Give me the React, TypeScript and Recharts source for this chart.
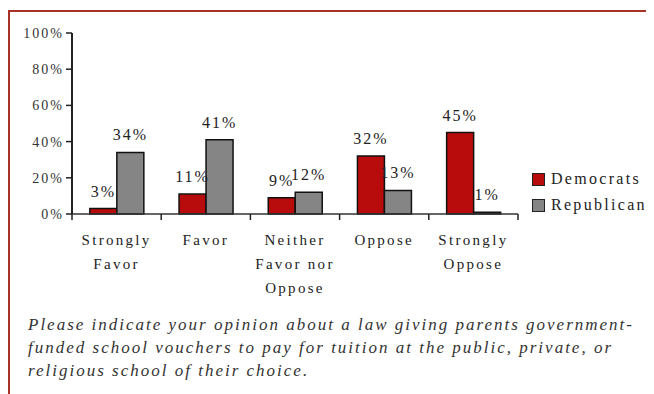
import { BarChart, Bar, XAxis, YAxis, Legend, LabelList } from "recharts";

const CATEGORIES = ["Strongly Favor", "Favor", "Neither Favor nor Oppose", "Oppose", "Strongly Oppose"];
const CATEGORY_LINES = [["Strongly", "Favor"], ["Favor"], ["Neither", "Favor nor", "Oppose"], ["Oppose"], ["Strongly", "Oppose"]];
const DEMOCRATS = [3, 11, 9, 32, 45];
const REPUBLICANS = [34, 41, 12, 13, 1];
const Y_TICKS = [0, 20, 40, 60, 80, 100];
const CAPTION = [
  "Please indicate your opinion about a law giving parents government-",
  "funded school vouchers to pay for tuition at the public, private, or",
  "religious school of their choice.",
];

const RED = "#b80c0c";
const GREY = "#858585";
const FONT = "'Liberation Serif', 'DejaVu Serif', serif";

const data = CATEGORIES.map((name, i) => ({
  name,
  Democrats: DEMOCRATS[i],
  Republicans: REPUBLICANS[i],
}));

// label centred in the band, tick marks on the band edges
function XTick(props: any) {
  const { x, y, payload, index, width, visibleTicksCount } = props;
  const count = visibleTicksCount || CATEGORIES.length;
  const half = (Number(width) || 446) / count / 2;
  const lines = CATEGORY_LINES[index] || [payload.value];
  const isLast = index === count - 1;
  return (
    <g>
      <line x1={x - half} x2={x - half} y1={y} y2={y + 6} stroke="#222" strokeWidth={1.5} />
      {isLast && <line x1={x + half} x2={x + half} y1={y} y2={y + 6} stroke="#222" strokeWidth={1.5} />}
      <text x={x} y={y + 31} textAnchor="middle" fontFamily={FONT} fontSize={15} letterSpacing={2.3} fill="#222">
        {lines.map((l: string, i: number) => (
          <tspan key={i} x={x} dy={i === 0 ? 0 : 24}>
            {l}
          </tspan>
        ))}
      </text>
    </g>
  );
}

function LegendContent() {
  const items = [
    { label: "Democrats", color: RED },
    { label: "Republicans", color: GREY },
  ];
  return (
    <div style={{ fontFamily: FONT, fontSize: 16, letterSpacing: 2.3, color: "#222", whiteSpace: "nowrap" }}>
      {items.map((it) => (
        <div key={it.label} style={{ display: "flex", alignItems: "center", height: 26 }}>
          <span style={{ display: "inline-block", width: 11, height: 11, background: it.color, border: "1.5px solid #222", marginRight: 6 }} />
          {it.label}
        </div>
      ))}
    </div>
  );
}

export default function App() {
  return (
    <div style={{ position: "relative", width: 646, height: 386, background: "#fff", overflow: "hidden" }}>
      <div style={{ position: "absolute", left: 0, top: 2, width: 644, height: 382, borderTop: "2px solid #a83226", borderLeft: "2px solid #a83226" }} />
      <div style={{ position: "absolute", left: 0, top: 0 }}>
        <BarChart width={646} height={296} data={data} margin={{ top: 25, right: 136, bottom: 0, left: 0 }} barCategoryGap="20%" barGap={0}>
          <XAxis
            dataKey="name"
            height={90}
            interval={0}
            tickLine={false}
            tickSize={0}
            tickMargin={0}
            tick={<XTick />}
            axisLine={{ stroke: "#333", strokeWidth: 1.5 }}
          />
          <YAxis
            width={64}
            domain={[0, 100]}
            ticks={Y_TICKS}
            interval={0}
            tickFormatter={(v) => `${v}%`}
            tickSize={6}
            tickMargin={2}
            tick={{ fontFamily: FONT, fontSize: 14, letterSpacing: 2, fill: "#333" }}
            tickLine={{ stroke: "#222", strokeWidth: 1.5 }}
            axisLine={{ stroke: "#222", strokeWidth: 2 }}
          />
          <Legend
            layout="vertical"
            align="center"
            verticalAlign="middle"
            content={<LegendContent />}
            wrapperStyle={{ left: 524, top: 158, width: 130 }}
          />
          <Bar dataKey="Democrats" fill={RED} stroke="#111" strokeWidth={1.5} isAnimationActive={false}>
            <LabelList dataKey="Democrats" position="top" offset={12} formatter={(v: any) => `${v}%`} fontFamily={FONT} fontSize={16} letterSpacing={2} fill="#222" />
          </Bar>
          <Bar dataKey="Republicans" fill={GREY} stroke="#111" strokeWidth={1.5} isAnimationActive={false}>
            <LabelList dataKey="Republicans" position="top" offset={12} formatter={(v: any) => `${v}%`} fontFamily={FONT} fontSize={16} letterSpacing={2} fill="#222" />
          </Bar>
        </BarChart>
      </div>
      <div
        style={{
          position: "absolute",
          left: 20,
          top: 305,
          fontFamily: FONT,
          fontStyle: "italic",
          fontSize: 17,
          letterSpacing: 2,
          lineHeight: "23px",
          color: "#333",
          whiteSpace: "nowrap",
        }}
      >
        {CAPTION.map((line, i) => (
          <div key={i}>{line}</div>
        ))}
      </div>
    </div>
  );
}
